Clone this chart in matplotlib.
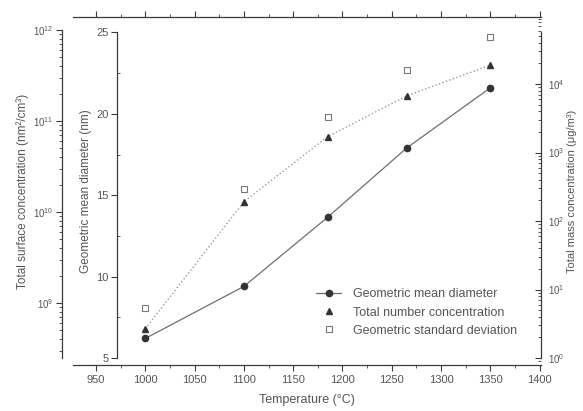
import matplotlib
matplotlib.use("Agg")
import matplotlib.pyplot as plt
from matplotlib.ticker import MultipleLocator, LogLocator, NullFormatter

plt.rcParams['font.family'] = ['Liberation Sans', 'DejaVu Sans']

# values (triangles and squares read against the diameter scale)
temperature = [1000, 1100, 1185, 1265, 1350]
mean_diameter = [6.2, 9.4, 13.65, 17.9, 21.6]
number_conc = [6.8, 14.6, 18.6, 21.1, 23.0]
std_deviation = [8.1, 15.4, 19.8, 22.7, 24.75]

x_ticks = [950, 1000, 1050, 1100, 1150, 1200, 1250, 1300, 1350, 1400]
diam_ticks = [5, 10, 15, 20, 25]
surface_ticks = [1e9, 1e10, 1e11, 1e12]
mass_ticks = [1e0, 1e1, 1e2, 1e3, 1e4]

txt = '#555555'
axc = '#3a3a3a'

fig = plt.figure(figsize=(5.83, 4.11), dpi=100)
ax = fig.add_axes([73/583, 1-365/411, 468/583, 348/411])
ax.patch.set_alpha(0)

ax.set_xlim(926.7, 1401.3)
ax.set_ylim(4.57, 25.95)

# main series
ax.plot(temperature, mean_diameter, '-', color='#6e6e6e', lw=0.9, marker='o',
        ms=4.5, mfc='#333333', mec='#333333', label='Geometric mean diameter', zorder=3)
ax.plot(temperature, number_conc, ':', color='#999999', lw=1.0, zorder=2)
ax.plot(temperature, number_conc, linestyle='none', marker='^', ms=5,
        mfc='#333333', mec='#333333', label='Total number concentration', zorder=3)
ax.plot(temperature, std_deviation, linestyle='none', marker='s', ms=5,
        mfc='white', mec='#777777', mew=0.8, label='Geometric standard deviation', zorder=3)

# spines: top/bottom full, left = diameter axis placed inside
ax.spines['right'].set_visible(False)
ax.spines['left'].set_position(('data', 971.3))
ax.spines['left'].set_bounds(5, 25)
for s in ['top', 'bottom', 'left']:
    ax.spines[s].set_color(axc)
    ax.spines[s].set_linewidth(0.9)

ax.set_xticks(x_ticks)
ax.xaxis.set_minor_locator(MultipleLocator(25))
ax.tick_params(axis='x', which='both', top=True, bottom=True, direction='out',
               colors=axc, labelcolor=txt, labelsize=8)
ax.tick_params(axis='x', which='major', length=4)
ax.tick_params(axis='x', which='minor', length=2)
ax.set_yticks(diam_ticks)
ax.yaxis.set_minor_locator(MultipleLocator(2.5))
ax.tick_params(axis='y', which='major', direction='out', length=4, colors=axc,
               labelcolor=txt, labelsize=8, pad=2)
ax.tick_params(axis='y', which='minor', direction='in', length=2, colors=axc)
ax.set_xlabel('Temperature (°C)', color=txt, fontsize=9, labelpad=6)
ax.set_ylabel('Geometric mean diameter (nm)', color=txt, fontsize=8.5, labelpad=3)

# outer left log axis
ax_s = ax.twinx()
ax_s.yaxis.tick_left()
ax_s.yaxis.set_label_position('left')
ax_s.set_yscale('log')
ax_s.set_ylim(10**8.319, 10**12.143)
for s in ['top', 'bottom', 'right']:
    ax_s.spines[s].set_visible(False)
ax_s.spines['left'].set_position(('axes', -11/468))
ax_s.spines['left'].set_bounds(10**8.40, 1e12)
ax_s.spines['left'].set_color(axc)
ax_s.spines['left'].set_linewidth(0.9)
ax_s.set_yticks(surface_ticks)
ax_s.yaxis.set_minor_locator(LogLocator(base=10, subs=range(2, 10), numticks=20))
ax_s.yaxis.set_minor_formatter(NullFormatter())
ax_s.tick_params(axis='y', which='major', direction='out', length=4, colors=axc,
                 labelcolor=txt, labelsize=7, pad=2)
ax_s.tick_params(axis='y', which='minor', direction='out', length=2, colors=axc)
ax_s.set_ylabel('Total surface concentration (nm²/cm³)', color=txt, fontsize=8.5, labelpad=3)

# right log axis
ax_m = ax.twinx()
ax_m.set_yscale('log')
ax_m.set_ylim(10**-0.102, 10**4.978)
for s in ['top', 'bottom', 'left']:
    ax_m.spines[s].set_visible(False)
ax_m.spines['right'].set_bounds(1, 10**4.76)
ax_m.spines['right'].set_color(axc)
ax_m.spines['right'].set_linewidth(0.9)
ax_m.set_yticks(mass_ticks)
ax_m.yaxis.set_minor_locator(LogLocator(base=10, subs=range(2, 10), numticks=20))
ax_m.yaxis.set_minor_formatter(NullFormatter())
ax_m.tick_params(axis='y', which='major', direction='in', length=4, colors=axc,
                 labelcolor=txt, labelsize=7, pad=5)
ax_m.tick_params(axis='y', which='minor', direction='in', length=2, colors=axc)
ax_m.set_ylabel('Total mass concentration (μg/m³)', color=txt, fontsize=8, labelpad=2)

leg = ax.legend(loc='upper left', bbox_to_anchor=(310/583, 1-282/411),
                bbox_transform=fig.transFigure, frameon=False, fontsize=9,
                handlelength=2.0, handletextpad=0.9, labelspacing=0.5, borderpad=0)
for t in leg.get_texts():
    t.set_color(txt)

fig.savefig('out.png', dpi=100)
